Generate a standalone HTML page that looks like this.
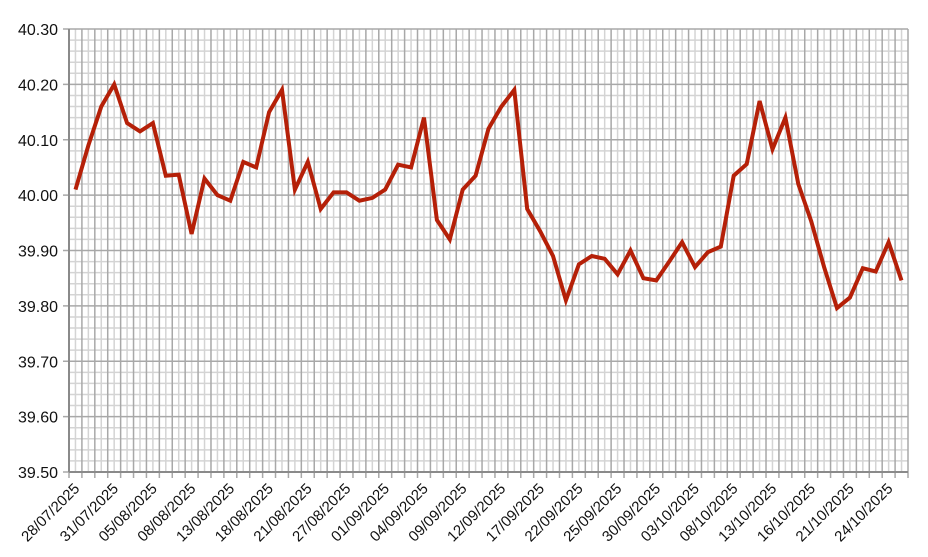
<!DOCTYPE html>
<html><head><meta charset="utf-8"><style>html,body{margin:0;padding:0;background:#fff}svg{display:block}</style></head>
<body>
<svg id="c" width="928" height="557" xmlns="http://www.w3.org/2000/svg" font-family="Liberation Sans, Arial, sans-serif"></svg>
<script>
const s=document.getElementById('c'),NS='http://www.w3.org/2000/svg';
function el(t,a,txt){const e=document.createElementNS(NS,t);for(const k in a)e.setAttribute(k,a[k]);if(txt!=null)e.textContent=txt;s.appendChild(e);return e;}
const L=69,R=908,T=29,B=472,n=65,w=(R-L)/n;
const Y=v=>T+(40.30-v)/0.80*(B-T);
// horizontal minor
for(let i=0;i<=40;i++){const y=T+i*(B-T)/40;if(i%5)el('line',{x1:L,x2:R,y1:y,y2:y,stroke:'#d4d4d4','stroke-width':1.5});}
// vertical
for(let i=0;i<n;i++){const x=L+(i+.5)*w;el('line',{x1:x,x2:x,y1:T,y2:B,stroke:'#d4d4d4','stroke-width':1.5});}
for(let i=0;i<=n;i++){const x=L+i*w;el('line',{x1:x,x2:x,y1:T,y2:B+6,stroke:'#a8a8a8','stroke-width':1.5});}
for(let i=0;i<=8;i++){const y=T+i*(B-T)/8;el('line',{x1:L-6,x2:R,y1:y,y2:y,stroke:'#a8a8a8','stroke-width':1.5});
 el('text',{x:58,y:y+6,'text-anchor':'end','font-size':16,fill:'#111'},(40.30-i*0.1).toFixed(2));}
el('line',{x1:L,x2:R,y1:B,y2:B,stroke:'#8a8a8a','stroke-width':2});
el('line',{x1:L,x2:L,y1:T,y2:B,stroke:'#8a8a8a','stroke-width':2});
const labs=['28/07/2025','31/07/2025','05/08/2025','08/08/2025','13/08/2025','18/08/2025','21/08/2025','27/08/2025','01/09/2025','04/09/2025','09/09/2025','12/09/2025','17/09/2025','22/09/2025','25/09/2025','30/09/2025','03/10/2025','08/10/2025','13/10/2025','16/10/2025','21/10/2025','24/10/2025'];
labs.forEach((t,i)=>{const x=L+i*3*w+4,y=B+10;el('text',{x:x,y:y,'text-anchor':'end','font-size':15,fill:'#111',transform:`rotate(-45 ${x} ${y})`,dy:'0.7em'},t);});
const d=[40.01,40.09,40.16,40.20,40.13,40.115,40.13,40.035,40.037,39.93,40.03,40.00,39.99,40.06,40.05,40.15,40.19,40.01,40.06,39.975,40.005,40.005,39.99,39.995,40.01,40.055,40.05,40.14,39.955,39.92,40.01,40.035,40.12,40.16,40.19,39.975,39.935,39.89,39.81,39.875,39.89,39.885,39.857,39.90,39.85,39.846,39.88,39.915,39.87,39.897,39.907,40.035,40.056,40.17,40.083,40.14,40.02,39.953,39.87,39.796,39.815,39.868,39.862,39.915,39.846];
el('polyline',{points:d.map((v,i)=>(L+(i+.5)*w).toFixed(1)+','+Y(v).toFixed(1)).join(' '),fill:'none',stroke:'#b52008','stroke-width':4,'stroke-linejoin':'miter'});
</script>
</body></html>
